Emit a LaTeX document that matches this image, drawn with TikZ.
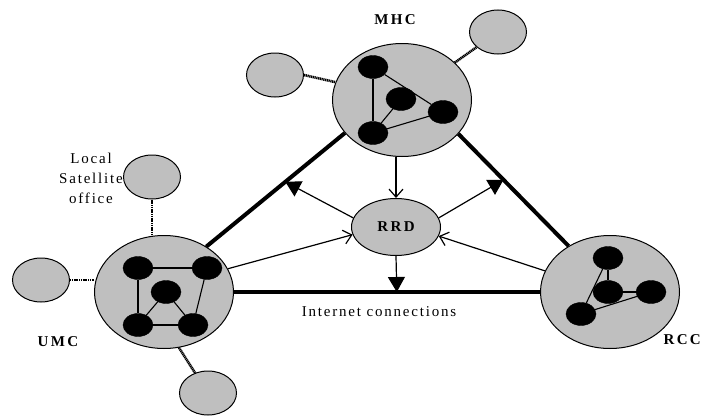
\documentclass[tikz,border=0pt]{standalone}
\usepackage{fontspec}
\setmainfont{Liberation Serif}
\newfontfamily\spaced[LetterSpace=12]{Liberation Serif}
\newfontfamily\wide[LetterSpace=16]{Liberation Serif}
\usetikzlibrary{arrows.meta,shapes,positioning}

\begin{document}
\begin{tikzpicture}[
        x=1pt, y=-1pt,
        site/.style={draw, line width=1pt, ellipse, fill=gray!50, minimum width=139pt, minimum height=113pt, inner sep=0pt},
        host/.style={draw, ellipse, fill=black, minimum width=30pt, minimum height=23pt, inner sep=0pt},
        sat/.style={draw, line width=1pt, ellipse, fill=gray!50, minimum width=57pt, minimum height=44pt, inner sep=0pt},
        hub/.style={draw, line width=1pt, ellipse, fill=gray!50, minimum width=89pt, minimum height=57pt, inner sep=0pt, font=\wide\bfseries\fontsize{15}{17}\selectfont},
        tag/.style={font=\wide\bfseries\fontsize{15}{17}\selectfont},
        note/.style={font=\spaced\fontsize{15}{20}\selectfont, align=center},
        trunk/.style={line width=4pt},
        wire/.style={line width=1.1pt},
        link/.style={line width=2.6pt, dash pattern=on 1.2pt off 0.6pt},
        feed/.style={line width=1.2pt, -{Straight Barb[length=8pt,width=14pt]}},
        push/.style={line width=1.2pt, -{Triangle[length=15pt,width=17pt]}}
    ]
    \useasboundingbox (0,0) rectangle (704,415);

    % Sites
    \node[site] (mhc) at (402,100) {};
    \node[site] (umc) at (164,292) {};
    \node[site] (rcc) at (610,292) {};
    \node[hub] (rrd) at (396,227) {RRD};

    % Satellite offices
    \node[sat] (sat1) at (275,75) {};
    \node[sat] (sat2) at (498,32) {};
    \node[sat] (local) at (152,177) {};
    \node[sat] (sat4) at (41,280) {};
    \node[sat] (sat5) at (208,393) {};

    \draw[link] (sat1.east) -- (mhc.165);
    \draw[link] (mhc) -- (sat2);
    \draw[link] (local.south) -- (local.south |- umc.north);
    \draw[link] (sat4.east) -- (sat4.east -| umc.west);
    \draw[link] (umc.-75) -- (sat5);

    % Hosts in MHC
    \node[host] (m1) at (373,67) {};
    \node[host] (m2) at (401,99) {};
    \node[host] (m3) at (443,112) {};
    \node[host] (m4) at (373,133) {};
    \draw[wire] (m1) -- (m4);
    \draw[wire] (m1) -- (m3);
    \draw[wire] (m4) -- (m2);
    \draw[wire] (m4) -- (m3);

    % Hosts in UMC
    \node[host] (u1) at (138,268) {};
    \node[host] (u2) at (207,268) {};
    \node[host] (u3) at (166,292) {};
    \node[host] (u4) at (138,325) {};
    \node[host] (u5) at (193,325) {};
    \draw[wire] (u1) -- (u2);
    \draw[wire] (u1) -- (u4);
    \draw[wire] (u2) -- (u5);
    \draw[wire] (u4) -- (u5);
    \draw[wire] (u3) -- (u4);
    \draw[wire] (u3) -- (u5);

    % Hosts in RCC
    \node[host] (r1) at (608,258) {};
    \node[host] (r2) at (608,292) {};
    \node[host] (r3) at (651,292) {};
    \node[host] (r4) at (581,314) {};
    \draw[wire] (r1) -- (r2);
    \draw[wire] (r1) -- (r4);
    \draw[wire] (r2) -- (r3);
    \draw[wire] (r4) -- (r3);

    % Internet connections
    \draw[trunk] (umc.47) -- coordinate[pos=0.57] (lhit) (mhc.210);
    \draw[trunk] (mhc.329) -- coordinate[pos=0.41] (rhit) (rcc.132);
    \draw[trunk] (umc.east) -- coordinate[pos=0.532] (bhit) (rcc.west);

    \draw[push] (rrd.168) -- (lhit);
    \draw[push] (rrd.12) -- (rhit);
    \draw[push] (rrd.south) -- (bhit);

    \draw[feed] (rrd.north |- mhc.south) -- (rrd.north);
    \draw[feed] (umc.20) -- (rrd.190);
    \draw[feed] (rcc.162) -- (rrd.348);

    % Labels
    \node[tag] (mhclbl) at (395,20) {MHC};
    \node[tag] (umclbl) at (58,342) {UMC};
    \node[tag, anchor=west] (rcclbl) at (660,340) {RCC};
    \node[note] (satlbl) at (91,178) {Local\\Satellite\\office};
    \node[note] (netlbl) at (379,312) {Internet connections};
\end{tikzpicture}
\end{document}
